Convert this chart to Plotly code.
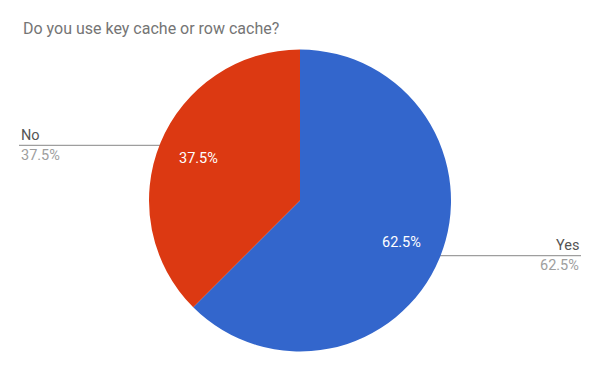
import math
import plotly.graph_objects as go

labels = ["Yes", "No"]
values = [62.5, 37.5]
colors = ["#3366CC", "#DC3912"]
title = "Do you use key cache or row cache?"

W, H = 600, 371
cx, cy, R = 300, 200.5, 151

fig = go.Figure()
fig.add_trace(go.Pie(
    labels=labels, values=values, sort=False, direction="clockwise", rotation=0,
    marker=dict(colors=colors, line=dict(width=0)),
    textinfo="none",
    domain=dict(x=[(cx - R) / W, (cx + R) / W], y=[(H - cy - R) / H, (H - cy + R) / H]),
    showlegend=False, hoverinfo="none",
))

total = sum(values)
start = 0.0
for lab, v in zip(labels, values):
    frac = v / total
    mid = (start + frac / 2) * 2 * math.pi  # clockwise from top
    start += frac
    sx, sy = math.sin(mid), math.cos(mid)
    # inside percent label
    fig.add_annotation(x=cx + 0.73 * R * sx, y=H - (cy - 0.73 * R * sy),
                       text=f"{v:.1f}%", showarrow=False, xanchor="center", yanchor="middle",
                       font=dict(family="Roboto", size=14.5, color="white"), xref="x", yref="y")
    # leader line
    px = cx + 0.955 * R * sx
    py = cy - 0.955 * R * sy
    right = sx > 0
    ex = 581 if right else 19
    fig.add_trace(go.Scatter(
        x=[px, ex], y=[H - py, H - py], mode="lines",
        line=dict(color="#9e9e9e", width=1.3), showlegend=False, hoverinfo="skip"))
    fig.add_trace(go.Scatter(
        x=[px], y=[H - py], mode="markers",
        marker=dict(color="#9e9e9e", size=5), showlegend=False, hoverinfo="skip"))
    anchor = "right" if right else "left"
    fig.add_annotation(x=ex, y=H - py + 10, text=lab, showarrow=False, xanchor=anchor,
                       yanchor="middle", font=dict(family="Roboto", size=14.5, color="#555555"),
                       xref="x", yref="y")
    fig.add_annotation(x=ex, y=H - py - 10, text=f"{v:.1f}%", showarrow=False, xanchor=anchor,
                       yanchor="middle", font=dict(family="Roboto", size=14.5, color="#9e9e9e"),
                       xref="x", yref="y")

fig.update_layout(
    width=W, height=H, margin=dict(l=0, r=0, t=0, b=0),
    paper_bgcolor="white", plot_bgcolor="rgba(0,0,0,0)",
    xaxis=dict(range=[0, W], visible=False, fixedrange=True, domain=[0, 1]),
    yaxis=dict(range=[0, H], visible=False, fixedrange=True, domain=[0, 1]),
    title=dict(text=title, x=23 / W, xanchor="left", y=1 - 28.5 / H, yanchor="middle",
               font=dict(family="Roboto", size=16, color="#757575")),
)
fig.write_html("out.html", config={"displayModeBar": False},
               post_script="document.body.style.margin='0';")
